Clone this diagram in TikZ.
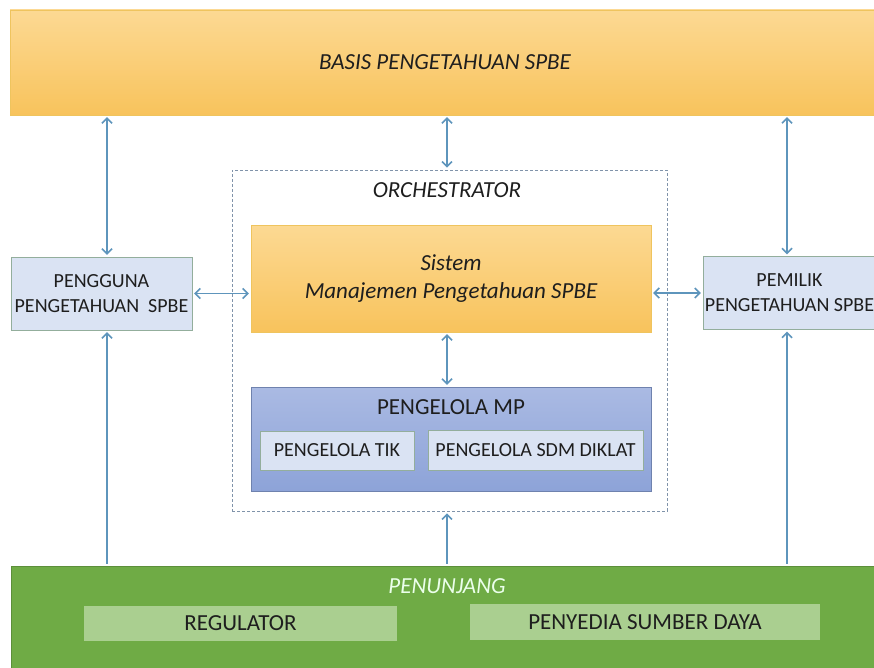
\documentclass[tikz,border=0pt]{standalone}
\usepackage{fontspec}
\setmainfont{Carlito}
\usetikzlibrary{arrows.meta}
\definecolor{linkblue}{HTML}{5E95BC}
\definecolor{orangetop}{HTML}{FCD993}
\definecolor{orangebot}{HTML}{F8C35C}
\definecolor{orangeline}{HTML}{EFC45E}
\definecolor{paleblue}{HTML}{DAE3F3}
\definecolor{paleline}{HTML}{93AE9C}
\definecolor{mptop}{HTML}{AABAE3}
\definecolor{mpbot}{HTML}{8DA3D8}
\definecolor{mpline}{HTML}{6F82AE}
\definecolor{mygreen}{HTML}{6FAB45}
\definecolor{greenline}{HTML}{5C8F3A}
\definecolor{lightgreen}{HTML}{AACF90}
\definecolor{dashline}{HTML}{8093AA}
\definecolor{textdark}{HTML}{1E1E1E}
\begin{document}
\begin{tikzpicture}[x=1pt, y=-1pt,
  orangebox/.style={draw=orangeline, top color=orangetop, bottom color=orangebot,
    text=textdark, align=center, font=\itshape},
  bluebox/.style={draw=paleline, fill=paleblue, text=textdark, align=center, inner sep=1pt},
  link/.style={draw=linkblue, line width=1.5pt, shorten <=2pt, shorten >=2pt},
  both/.style={link, {Straight Barb[length=5pt,width=10pt]}-{Straight Barb[length=5pt,width=10pt]}},
  up/.style={link, -{Straight Barb[length=5pt,width=10pt]}}]
\useasboundingbox (0,0) rectangle (874,668);
\clip (0,0) rectangle (874,668);
\fill [white] (0,0) rectangle (874,668);

% basis and orchestrator
\node [orangebox, minimum width=870, minimum height=105, font=\itshape\fontsize{23}{28}\selectfont]
  (basis) at (445,62.5) {BASIS PENGETAHUAN SPBE};
\node [draw=dashline, line width=0.8pt, dash pattern=on 3pt off 2pt, minimum width=435, minimum height=341] (orch) at (449.5,340.5) {};
\node [text=textdark, font=\itshape\fontsize{23}{28}\selectfont] (orchlabel) at (447,190) {ORCHESTRATOR};
\node [orangebox, minimum width=400, minimum height=107, font=\itshape\fontsize{23}{28}\selectfont]
  (sistem) at (451,278.5) {Sistem\\Manajemen Pengetahuan SPBE};

% pengguna and pemilik
\node [bluebox, minimum width=181, minimum height=73, font=\fontsize{20}{25}\selectfont]
  (pengguna) at (101.5,293.5) {PENGGUNA\\PENGETAHUAN\ \ SPBE};
\node [bluebox, minimum width=173, minimum height=73, font=\fontsize{20}{25}\selectfont]
  (pemilik) at (789.5,293) {PEMILIK\\PENGETAHUAN SPBE};

% pengelola MP
\node [draw=mpline, top color=mptop, bottom color=mpbot, minimum width=400, minimum height=104] (mp) at (451,439) {};
\node [text=textdark, font=\fontsize{23}{28}\selectfont] (mplabel) at (451,407) {PENGELOLA MP};
\node [bluebox, minimum width=154, minimum height=39, font=\fontsize{20}{24}\selectfont] (tik) at (337,450.5) {PENGELOLA TIK};
\node [bluebox, minimum width=215, minimum height=40, font=\fontsize{20}{24}\selectfont] (sdm) at (535.5,450) {PENGELOLA SDM DIKLAT};

% penunjang
\node [draw=greenline, fill=mygreen, minimum width=872, minimum height=114] (penunjang) at (447,623) {};
\node [text=green!8, font=\itshape\fontsize{23}{28}\selectfont] (penlabel) at (447,586) {PENUNJANG};
\node [fill=lightgreen, text=textdark, minimum width=313, minimum height=35, font=\fontsize{23}{28}\selectfont] (regulator) at (240.5,623.5) {REGULATOR};
\node [fill=lightgreen, text=textdark, minimum width=350, minimum height=36, font=\fontsize{23}{28}\selectfont] (penyedia) at (645,622) {PENYEDIA SUMBER DAYA};

% connectors
\draw [both] ([xshift=5.5]pengguna.north) -- ([xshift=5.5]pengguna.north |- basis.south);
\draw [both] ([xshift=-2.5]orch.north) -- ([xshift=-2.5]orch.north |- basis.south);
\draw [both] ([xshift=-2.5]pemilik.north) -- ([xshift=-2.5]pemilik.north |- basis.south);
\draw [both] (pengguna.east) -- (pengguna.east -| sistem.west);
\draw [both] (pemilik.west) -- (pemilik.west -| sistem.east);
\draw [both] ([xshift=-4]sistem.south) -- ([xshift=-4]sistem.south |- mp.north);
\draw [up] ([xshift=5.5]pengguna.south |- penunjang.north) -- ([xshift=5.5]pengguna.south);
\draw [up] ([xshift=-2.5]orch.south |- penunjang.north) -- ([xshift=-2.5]orch.south);
\draw [up] ([xshift=-2.5]pemilik.south |- penunjang.north) -- ([xshift=-2.5]pemilik.south);
\end{tikzpicture}
\end{document}
